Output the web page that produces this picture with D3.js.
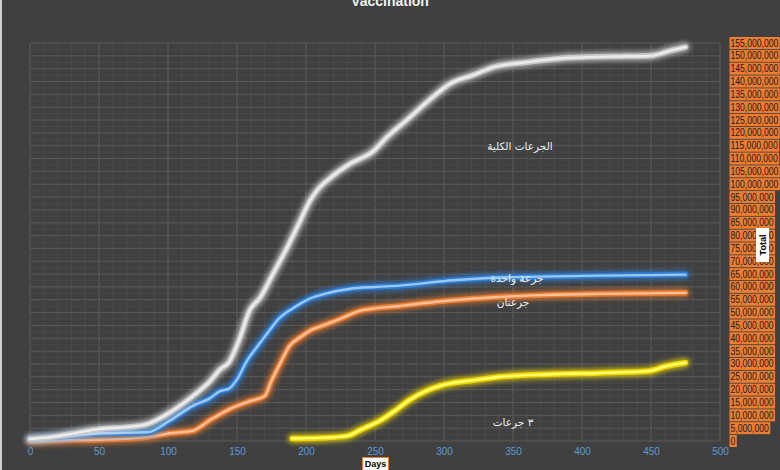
<!DOCTYPE html>
<html><head><meta charset="utf-8">
<script src="https://cdn.jsdelivr.net/npm/d3@7/dist/d3.min.js"></script>
<style>body{margin:0;background:#404040;}svg{display:block;}</style>
</head><body>
<svg id="c" width="780" height="470"></svg>
<script>
const title = "Vaccination";
const xTicks = [0,50,100,150,200,250,300,350,400,450,500];
const yTicks = d3.range(0, 155000001, 5000000);
const totalDays = [0,12,30,51,70,85,101,118,130,138,144,152,159,167,176,186,196,203,208,220,232,249,258,273,292,304,321,336,360,384,420,449,464,475];
const totalVals = [0.8,1.3,2.8,4.7,5.4,6.6,11,17.5,23,28,30.5,40,50.7,56,65,75,86,93.7,97.6,103.5,108,113,118,125,134,139,142.5,145.6,147.5,149,149.7,150,152,153.4];
const oneDays = [0,20,51,70,85,101,118,130,138,144,150,157,165,172,181,190,196,203,215,232,250,268,304,336,370,413,450,475];
const oneVals = [0.8,1.5,3,3.2,3.4,7.8,13.7,16.5,19.5,20.3,24,31,37,42,48,51.5,53.5,55.5,57.5,59.3,60,60.5,62.5,63.6,64,64.4,64.6,64.8];
const twoDays = [0,30,51,85,101,118,130,145,160,170,175,182,188,196,203,215,225,239,268,304,336,370,413,475];
const twoVals = [0,0.3,0.5,1.5,3,4,8,12.5,15.6,17.5,23.5,31,37,40.5,43,45.5,47.6,50.7,52.6,54.7,56,56.8,57.3,57.7];
const threeDays = [190,210,230,240,254,265,275,287,297,308,319,341,377,413,449,460,475];
const threeVals = [1,1.2,2,4.5,8,12,16,19.5,21.5,22.8,23.5,25,26,26.5,27.3,29,30.5];
const seriesNames = ["الجرعات الكلية","جرعة واحدة","جرعتان","٣ جرعات"];
const xTitle = "Days", yTitle = "Total";

const svg = d3.select("#c");
const x = d3.scaleLinear().domain([0,500]).range([30,720]);
const y = d3.scaleLinear().domain([0,155000000]).range([441,43]);

// left border
svg.append("rect").attr("x",0).attr("y",0).attr("width",2).attr("height",470).attr("fill","#cfcfcf");

// grid
const g = svg.append("g");
d3.range(0,501,10).forEach(d=>{
  g.append("line").attr("x1",x(d)).attr("x2",x(d)).attr("y1",y(155e6)).attr("y2",y(0))
   .attr("stroke", d%50===0 ? "#5e5e5e" : "#4b4b4b").attr("stroke-width",1);
});
d3.range(0,155000001,2500000).forEach(v=>{
  g.append("line").attr("x1",x(0)).attr("x2",x(500)).attr("y1",y(v)).attr("y2",y(v))
   .attr("stroke", v%5000000===0 ? "#5a5a5a" : "#484848").attr("stroke-width",1);
});

// title
svg.append("text").attr("x",390).attr("y",6).attr("text-anchor","middle")
  .attr("font-family","Liberation Sans, Arial").attr("font-weight","bold").attr("font-size",14)
  .attr("fill","#f2f2f2").text(title);

// x axis labels
const xAxis = d3.axisBottom(x).tickValues(xTicks).tickSize(0).tickPadding(0);
const xa = svg.append("g").attr("transform","translate(0,446)").call(xAxis);
xa.select(".domain").remove();
xa.selectAll("text").attr("font-family","Liberation Sans, Arial").attr("font-size",10).attr("fill","#5b9bd5").attr("dy","0.9em");

// glow filter
const defs = svg.append("defs");
const f = defs.append("filter").attr("id","glow").attr("x","-10%").attr("y","-10%").attr("width","120%").attr("height","120%");
f.append("feGaussianBlur").attr("stdDeviation",2.4);

const line = d3.line().x(d=>x(d[0])).y(d=>y(d[1]*1e6)).curve(d3.curveMonotoneX);
const series = [
  {days: twoDays, vals: twoVals, glow:"#ed7d31", outer:"#ed7d31", inner:"#f8c09a"},
  {days: oneDays, vals: oneVals, glow:"#2e7fd9", outer:"#2e7fd9", inner:"#9cc8f0"},
  {days: threeDays, vals: threeVals, glow:"#ffe600", outer:"#f2d600", inner:"#ffff70"},
  {days: totalDays, vals: totalVals, glow:"#e0e0e0", outer:"#c8c8c8", inner:"#ececec"},
];
series.forEach(s=>{
  const pts = s.days.map((d,i)=>[d,s.vals[i]]);
  svg.append("path").attr("d",line(pts)).attr("fill","none").attr("stroke",s.glow)
    .attr("stroke-width",9).attr("stroke-opacity",0.7).attr("filter","url(#glow)").attr("stroke-linecap","round");
  svg.append("path").attr("d",line(pts)).attr("fill","none").attr("stroke",s.outer)
    .attr("stroke-width",5.5).attr("stroke-linecap","round");
  svg.append("path").attr("d",line(pts)).attr("fill","none").attr("stroke",s.inner)
    .attr("stroke-width",2.4).attr("stroke-linecap","round");
});

// series labels
const labelPos = [[520,150],[517,282],[513,306],[513,426]];
seriesNames.forEach((n,i)=>{
  svg.append("text").attr("x",labelPos[i][0]).attr("y",labelPos[i][1]).attr("text-anchor","middle")
    .attr("font-family","DejaVu Sans, Noto Sans").attr("font-size",10.5).attr("fill","#f2f2f2")
    .attr("direction","rtl").text(n);
});

// right axis labels
const fmt = d3.format(",");
const ra = svg.append("g");
yTicks.forEach(v=>{
  const t = ra.append("text").attr("x",730.5).attr("y",y(v)).attr("dy","0.35em")
    .attr("font-family","Liberation Sans, Arial").attr("font-size",10).attr("fill","#1a1a1a").text(fmt(v));
  const w0 = t.node().getComputedTextLength();
  const w = w0 * 0.86;
  t.attr("textLength", w).attr("lengthAdjust","spacingAndGlyphs");
  ra.insert("rect","text").attr("x",729.5).attr("y",y(v)-6).attr("width",w+2.5).attr("height",12).attr("fill","#ed7d31");
});
ra.selectAll("text").raise();

// Total title box
svg.append("rect").attr("x",756).attr("y",228).attr("width",13).attr("height",34).attr("fill","#ffffff");
svg.append("text").attr("transform","translate(766,245) rotate(-90)").attr("text-anchor","middle")
  .attr("font-family","Liberation Sans, Arial").attr("font-weight","bold").attr("font-size",9).attr("fill","#000").text(yTitle);

// Days title box
svg.append("rect").attr("x",362.5).attr("y",457.5).attr("width",26).attr("height",14).attr("fill","#fff").attr("stroke","#ed7d31");
svg.append("text").attr("x",375.5).attr("y",467).attr("text-anchor","middle")
  .attr("font-family","Liberation Sans, Arial").attr("font-weight","bold").attr("font-size",9).attr("fill","#000").text(xTitle);
</script>
</body></html>
